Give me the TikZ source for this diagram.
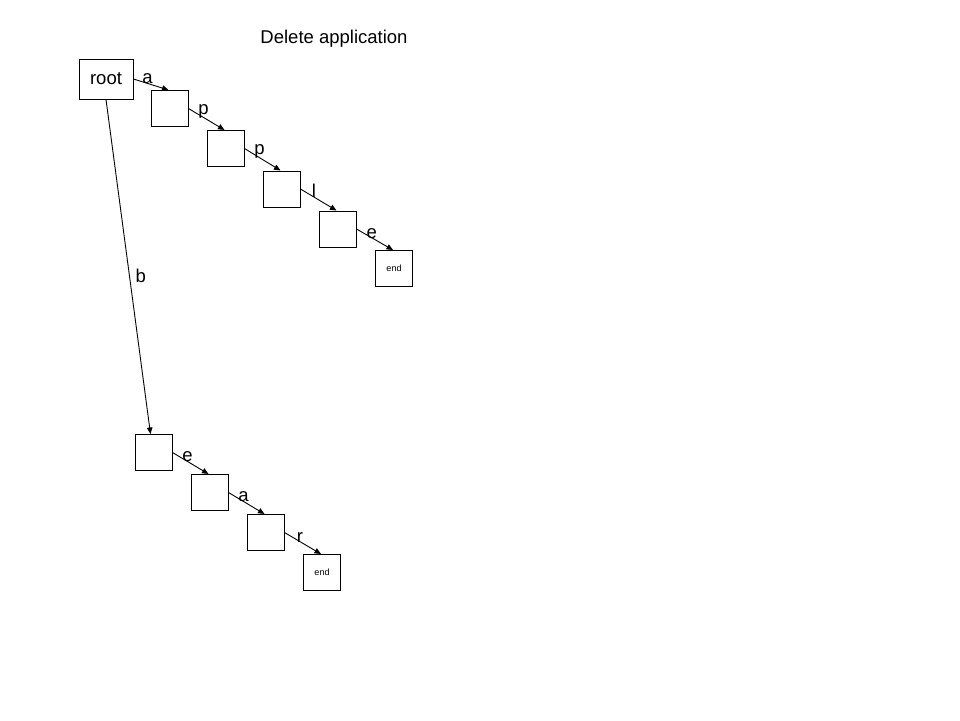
\documentclass[tikz,border=0pt]{standalone}
\usepackage{fontspec}
\setmainfont{Liberation Sans}
\usetikzlibrary{arrows.meta}
\begin{document}
\begin{tikzpicture}[x=1pt,y=-1pt,
  box/.style={draw,line width=1pt,minimum width=37pt,minimum height=36pt,inner sep=0pt},
  rootbox/.style={box,minimum width=54pt,minimum height=40pt,font=\fontsize{18.5}{22}\selectfont},
  endbox/.style={box,font=\fontsize{9}{11}\selectfont},
  lbl/.style={font=\fontsize{18.5}{22}\selectfont,inner sep=1pt,yshift=-2pt},
  link/.style={line width=0.9pt,-{Triangle[length=6.5pt,width=5.5pt]}}]
\useasboundingbox (0,0) rectangle (960,720);
\node[font=\fontsize{18.5}{22}\selectfont] (title) at (334,39) {Delete application};
\node[rootbox] (root) at (106,79) {root};
\node[box] (n1) at (169.5,108.5) {};
\node[box] (n2) at (225.5,148.5) {};
\node[box] (n3) at (281.5,189) {};
\node[box] (n4) at (337.5,229) {};
\node[endbox] (e1) at (394,268.5) {end};
\node[box] (m1) at (153.5,452.5) {};
\node[box] (m2) at (209.5,492.5) {};
\node[box] (m3) at (265.5,532.5) {};
\node[endbox] (e2) at (322,572.5) {end};
\draw[link] (root.east) -- node[lbl,pos=0.4,above] {a} ([xshift=-1pt]n1.north);
\draw[link] (n1.east) -- node[lbl,pos=0.42,above] {p} ([xshift=-1pt]n2.north);
\draw[link] (n2.east) -- node[lbl,pos=0.42,above] {p} ([xshift=-1pt]n3.north);
\draw[link] (n3.east) -- node[lbl,pos=0.37,above] {l} ([xshift=-1pt]n4.north);
\draw[link] (n4.east) -- node[lbl,pos=0.42,above] {e} ([xshift=-1pt]e1.north);
\draw[link] (root.south) -- node[lbl,pos=0.52,right=5pt] {b} ([xshift=-3pt]m1.north);
\draw[link] (m1.east) -- node[lbl,pos=0.42,above] {e} ([xshift=-1pt]m2.north);
\draw[link] (m2.east) -- node[lbl,pos=0.42,above] {a} ([xshift=-1pt]m3.north);
\draw[link] (m3.east) -- node[lbl,pos=0.42,above] {r} ([xshift=-1pt]e2.north);
\end{tikzpicture}
\end{document}
